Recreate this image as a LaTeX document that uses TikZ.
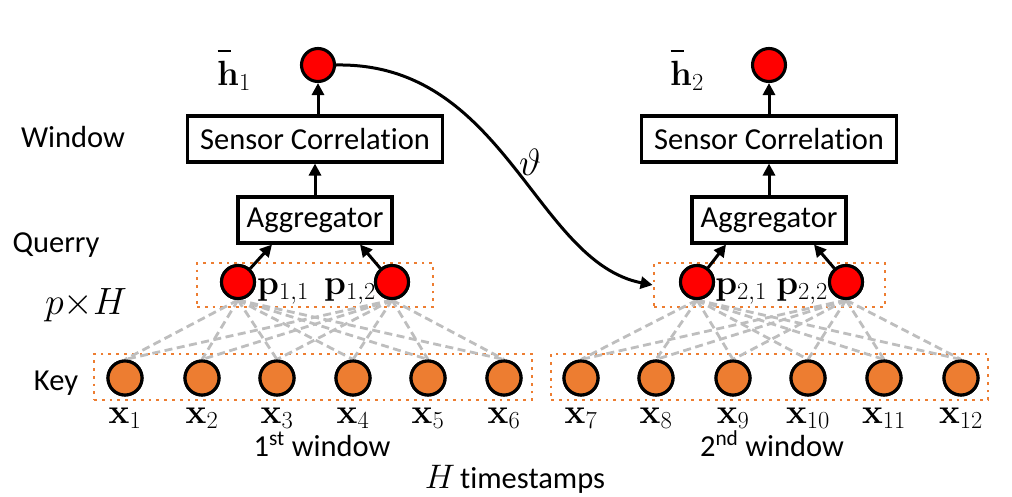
\documentclass[tikz,border=0pt]{standalone}
\usepackage{fix-cm}
\usepackage[no-math]{fontspec}
\setmainfont[Ligatures={NoCommon}]{Carlito}
\usetikzlibrary{arrows.meta,calc}
\definecolor{keyorange}{RGB}{237,125,49}
\definecolor{dashgray}{RGB}{190,190,190}
\newcommand{\hbarvec}[1]{\rlap{\kern0.5pt\raisebox{33pt}{\rule{13pt}{2pt}}}\mathbf{h}_{#1}}
\begin{document}
\begin{tikzpicture}[x=1pt,y=-1pt,
  txt/.style={font=\fontsize{30.5}{36}\selectfont, inner sep=0pt},
  mth/.style={font=\fontsize{35}{42}\selectfont, inner sep=0pt},
  redc/.style={circle, draw=black, line width=3.1pt, fill=red, minimum size=33pt, inner sep=0pt},
  keyc/.style={circle, draw=black, line width=3.1pt, fill=keyorange, minimum size=34pt, inner sep=0pt},
  blockbox/.style={draw=black, line width=3.1pt, minimum height=46pt, inner sep=0pt, font=\fontsize{30.5}{36}\selectfont},
  dotbox/.style={draw=keyorange, line width=2.8pt, dash pattern=on 2.8pt off 5pt, inner sep=0pt},
  arr/.style={line width=3pt, -{Triangle[length=12pt,width=12pt]}},
  dsh/.style={draw=dashgray, line width=2.8pt, dash pattern=on 8pt off 4.5pt}
]
\useasboundingbox (0,0) rectangle (1012,496);

% dotted group boxes
\node[dotbox, minimum width=236pt, minimum height=44pt] (pb1) at (315,285) {};
\node[dotbox, minimum width=231pt, minimum height=44pt] (pb2) at (769.5,285) {};
\node[dotbox, minimum width=438pt, minimum height=46pt] (kb1) at (313,377) {};
\node[dotbox, minimum width=437pt, minimum height=46pt] (kb2) at (769.5,377) {};

% key nodes
\foreach \i/\xx in {1/125,2/202,3/277,4/353,5/428,6/504,7/581,8/656,9/733,10/808,11/884,12/961}{
  \node[keyc] (x\i) at (\xx,378) {};
  \node[mth, anchor=base] (lx\i) at ([yshift=-27pt]x\i.south) {$\mathbf{x}_{\i}$};
}

% query nodes
\node[redc] (p11) at (238,282) {};
\node[redc] (p12) at (392,282) {};
\node[redc] (p21) at (697,282) {};
\node[redc] (p22) at (846,282) {};
\node[mth, anchor=base] (lp11) at (283,294) {$\mathbf{p}_{1,1}$};
\node[mth, anchor=base] (lp12) at (350,294) {$\mathbf{p}_{1,2}$};
\node[mth, anchor=base] (lp21) at (741,294) {$\mathbf{p}_{2,1}$};
\node[mth, anchor=base] (lp22) at (802,294) {$\mathbf{p}_{2,2}$};

% dashed attention lines
\foreach \k in {1,...,6}{
  \draw[dsh] (p11.south) -- (x\k.north);
  \draw[dsh] (p12.south) -- (x\k.north);
}
\foreach \k in {7,...,12}{
  \draw[dsh] (p21.south) -- (x\k.north);
  \draw[dsh] (p22.south) -- (x\k.north);
}
% redraw circles on top of dashed lines
\foreach \i in {1,...,12}{
  \node[keyc] (xx\i) at (x\i) {};
}
\node[redc] (q11) at (p11) {};
\node[redc] (q12) at (p12) {};
\node[redc] (q21) at (p21) {};
\node[redc] (q22) at (p22) {};

% blocks
\node[blockbox, minimum width=255pt] (sc1) at (315,139) {Sensor Correlation};
\node[blockbox, minimum width=255pt] (sc2) at (769,139) {Sensor Correlation};
\node[blockbox, minimum width=154pt] (ag1) at (315,220) {Aggregator};
\node[blockbox, minimum width=154pt] (ag2) at (769,220) {Aggregator};

\node[redc] (h1) at (318,65) {};
\node[redc] (h2) at (769,65) {};
\node[mth, anchor=base west] (lh1) at (217,85) {$\hbarvec{1}$};
\node[mth, anchor=base west] (lh2) at (670,85) {$\hbarvec{2}$};

% arrows
\draw[arr] (sc1.north -| h1) -- (h1.south);
\draw[arr] (sc2.north -| h2) -- (h2.south);
\draw[arr] (ag1.north) -- (ag1.north |- sc1.south);
\draw[arr] (ag2.north) -- (ag2.north |- sc2.south);
\draw[arr] (q11) -- ([xshift=-43pt]ag1.south);
\draw[arr] (q12) -- ([xshift=45pt]ag1.south);
\draw[arr] (q21) -- ([xshift=-43pt]ag2.south);
\draw[arr] (q22) -- ([xshift=45pt]ag2.south);

% theta curve
\draw[arr] (h1.east) .. controls (505,62) and (535,262) .. (pb2.west);
\node[font=\fontsize{38}{44}\selectfont, inner sep=0pt] (th) at (530,162) {$\vartheta$};

% side labels
\node[txt] (lwin) at (73,137) {Window};
\node[txt] (lq) at (56,245) {Querry};
\node[font=\fontsize{38}{46}\selectfont, inner sep=0pt] (lpH) at (86,305) {$p{\times}H$};
\node[txt] (lkey) at (56,383) {Key};

\node[txt] (w1) at (322,444) {1\textsuperscript{st} window};
\node[txt] (w2) at (772,444) {2\textsuperscript{nd} window};
\node[txt] (ts) at (515,479) {{\fontsize{34}{40}\selectfont$H$}\,timestamps};
\end{tikzpicture}
\end{document}
